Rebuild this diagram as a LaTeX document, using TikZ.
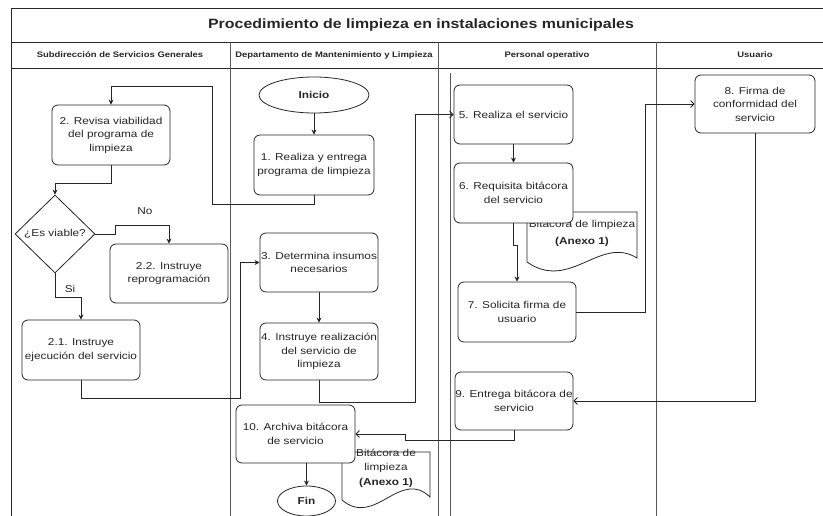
\documentclass[tikz,border=0pt]{standalone}
\usepackage{fontspec}
\setmainfont{Liberation Sans}[FakeStretch=1.18]
\usetikzlibrary{shapes.geometric,arrows.meta}
\begin{document}
\begin{tikzpicture}[x=1pt,y=-1pt,
  frameline/.style={draw=black!85, line width=0.8pt},
  laneline/.style={draw=black!65, line width=0.6pt},
  proc/.style={draw=black!85, line width=0.8pt, rounded corners=6pt, fill=white,
    align=center, inner sep=0pt, text=black!85, font=\fontsize{10}{13.5}\selectfont},
  term/.style={ellipse, draw=black!85, line width=0.8pt, fill=white, inner sep=0pt,
    text=black!85, font=\bfseries\fontsize{10}{12}\selectfont},
  decision/.style={diamond, draw=black!85, line width=0.8pt, fill=white, inner sep=0pt},
  docshape/.style={draw=black!85, line width=0.8pt, fill=white},
  doctxt/.style={align=center, inner sep=0pt, text=black!85},
  lbl/.style={inner sep=0pt, text=black!85, font=\fontsize{10}{12}\selectfont},
  hdr/.style={inner sep=0pt, text=black!85, font=\bfseries\fontsize{8}{10}\selectfont},
  ttl/.style={inner sep=0pt, text=black!85, font=\bfseries\fontsize{13.5}{16}\selectfont},
  conn/.style={draw=black!85, line width=0.8pt},
  arr/.style={conn, -{Stealth[length=5pt,width=5pt]}},
  arrb/.style={conn, -{Straight Barb[length=3.5pt,width=7pt]}}
]
\path[use as bounding box, clip] (0,0) rectangle (823,516);

% frame
\draw[frameline] (11,8) -- (823,8);
\draw[frameline] (11,42) -- (823,42);
\draw[frameline] (11,68) -- (823,68);
\draw[frameline] (11,8) -- (11,516);
\draw[laneline] (230,42) -- (230,516);
\draw[laneline] (438,42) -- (438,516);
\draw[laneline] (450,73) -- (450,516);
\draw[laneline] (656,42) -- (656,516);

\node[ttl] (title) at (421,25) {Procedimiento de limpieza en instalaciones municipales};
\node[hdr] (h1) at (120,55) {Subdirección de Servicios Generales};
\node[hdr] (h2) at (334,55) {Departamento de Mantenimiento y Limpieza};
\node[hdr] (h3) at (547,55) {Personal operativo};
\node[hdr] (h4) at (755,55) {Usuario};

% documents
\path[docshape] (527,212) -- (637,212) -- (637,258) .. controls (600,235) and (570,292) .. (527,262) -- cycle;
\path[docshape] (342,452) -- (430,452) -- (430,497) .. controls (400,468) and (375,528) .. (342,500) -- cycle;
\node[doctxt, font=\fontsize{10}{17}\selectfont] (d1t) at (582,233) {Bitácora de limpieza\\\textbf{(Anexo 1)}};
\node[doctxt, font=\fontsize{10}{14.5}\selectfont] (d2t) at (386,468) {Bitácora de\\limpieza\\\textbf{(Anexo 1)}};

% nodes
\node[term, minimum width=110pt, minimum height=36pt] (inicio) at (314,95) {Inicio};
\node[proc, minimum width=120pt, minimum height=60pt] (n1) at (314,165) {1. Realiza y entrega\\programa de limpieza};
\node[proc, minimum width=118pt, minimum height=60pt] (n2) at (111,135) {2. Revisa viabilidad\\del programa de\\limpieza};
\node[decision, minimum width=80pt, minimum height=78pt,
  label={[lbl]center:¿Es viable?}] (dia) at (55,234) {};
\node[proc, minimum width=118pt, minimum height=59pt] (n22) at (169,273.5) {2.2. Instruye\\reprogramación};
\node[proc, minimum width=118pt, minimum height=60pt] (n21) at (81,350) {2.1. Instruye\\ejecución del servicio};
\node[proc, minimum width=118pt, minimum height=59pt] (n3) at (319,262.5) {3. Determina insumos\\necesarios};
\node[proc, minimum width=118pt, minimum height=57pt] (n4) at (319,351.5) {4. Instruye realización\\del servicio de\\limpieza};
\node[proc, minimum width=119pt, minimum height=59pt] (n5) at (513.5,114.5) {5. Realiza el servicio};
\node[proc, minimum width=119pt, minimum height=60pt] (n6) at (513.5,193) {6. Requisita bitácora\\del servicio};
\node[proc, minimum width=118pt, minimum height=60pt] (n7) at (517,312) {7. Solicita firma de\\usuario};
\node[proc, minimum width=120pt, minimum height=58pt] (n8) at (755,104) {8. Firma de\\conformidad del\\servicio};
\node[proc, minimum width=118pt, minimum height=58pt] (n9) at (514,401) {9. Entrega bitácora de\\servicio};
\node[proc, minimum width=119pt, minimum height=58pt] (n10) at (295.5,434) {10. Archiva bitácora\\de servicio};
\node[term, minimum width=58pt, minimum height=30pt] (fin) at (306.5,501) {Fin};

\node[lbl] (no) at (145,211) {No};
\node[lbl] (si) at (70,289) {Si};

% helper coordinates
\coordinate (c3) at (240,262.5);
\coordinate (c5) at (415,114.5);
\coordinate (c8) at (645,104);
\coordinate (c10) at (405,434);

% connectors
\draw[arr] (inicio) -- (n1);
\draw[arr] (n1.south) -- ++(0,9) -| (212,86) -| (n2.north);
\draw[arr] (n2.south) -- ++(0,18) -| (dia.north);
\draw[arr] (dia.east) -- ++(20,0) -- ++(0,-9) -| (n22.north);
\draw[arr] (dia.south) -- ++(0,24) -| (n21.north);
\draw[arr] (n21.south) -- ++(0,18) -| (c3) -- (n3.west);
\draw[arr] (n3) -- (n4);
\draw[arrb] (n4.south) -- ++(0,22) -| (c5) -- (n5.west);
\draw[arr] (n5) -- (n6);
\draw[arr] (n6.south) -- ++(0,22) -| (n7.north);
\draw[arrb] (n7.east) -| (c8) -- (n8.west);
\draw[arrb] (n8.south) |- (n9.east);
\draw[arrb] (n9.south) -- ++(0,10) -| (c10) -- (n10.east);
\draw[arr] (fin.north |- n10.south) -- (fin.north);
\end{tikzpicture}
\end{document}
